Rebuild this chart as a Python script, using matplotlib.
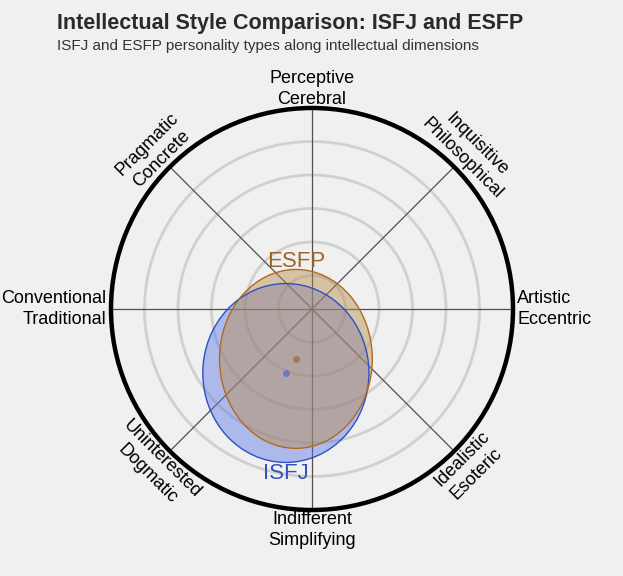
import matplotlib
matplotlib.use('Agg')
import matplotlib.pyplot as plt
from matplotlib.patches import Ellipse, Circle
import numpy as np

plt.rcParams['font.family'] = ['Liberation Sans', 'DejaVu Sans']

# axis labels, starting at top and going clockwise
axis_labels = ['Perceptive\nCerebral', 'Inquisitive\nPhilosophical', 'Artistic\nEccentric',
               'Idealistic\nEsoteric', 'Indifferent\nSimplifying', 'Uninterested\nDogmatic',
               'Conventional\nTraditional', 'Pragmatic\nConcrete']
axis_angles = [90, 45, 0, -45, -90, -135, 180, 135]

ring_levels = [1, 2, 3, 4, 5]
outer_radius = 6

# personality types: centre (x, y) and semi-axes (x, y)
types = ['ISFJ', 'ESFP']
centre_x = [-0.78, -0.48]
centre_y = [-1.91, -1.49]
semi_x = [2.48, 2.28]
semi_y = [2.67, 2.67]
fill_colors = ['#5f76e5', '#b88c49']
edge_colors = ['#2f4fc4', '#b06a1e']
label_colors = ['#3552b8', '#9c6426']
dot_colors = ['#6a78c8', '#a8785a']

px = 33.5  # pixels per unit
cx, cy = 312, 309

fig = plt.figure(figsize=(6.23, 5.76), dpi=100)
fig.patch.set_facecolor('#f0f0f0')
ax = fig.add_axes([0, 0, 1, 1])
ax.set_facecolor('#f0f0f0')
ax.set_xlim(-cx / px, (623 - cx) / px)
ax.set_ylim(-(576 - cy) / px, cy / px)
ax.set_aspect('equal')
ax.axis('off')

for r in ring_levels:
    ax.add_patch(Circle((0, 0), r, fill=False, ec='#d0d0d0', lw=2, zorder=1))

for a in axis_angles:
    t = np.radians(a)
    ax.plot([0, outer_radius * np.cos(t)], [0, outer_radius * np.sin(t)],
            color='#505050', lw=0.9, zorder=2)

ax.add_patch(Circle((0, 0), outer_radius, fill=False, ec='black', lw=3.2, zorder=5))

for i, name in enumerate(types):
    ax.add_patch(Ellipse((centre_x[i], centre_y[i]), 2 * semi_x[i], 2 * semi_y[i],
                         fc=fill_colors[i], ec='none', alpha=0.45, zorder=3 + i * 0.1))
    ax.add_patch(Ellipse((centre_x[i], centre_y[i]), 2 * semi_x[i], 2 * semi_y[i],
                         fc='none', ec=edge_colors[i], lw=1, zorder=3.5))
    ax.plot(centre_x[i], centre_y[i], 'o', ms=4, color=dot_colors[i], zorder=4)

# type labels: ESFP above its ellipse, ISFJ below
ax.text(centre_x[1], centre_y[1] + semi_y[1] - 0.08, types[1], color=label_colors[1],
        fontsize=16, ha='center', va='bottom', zorder=6)
ax.text(centre_x[0], centre_y[0] - semi_y[0] - 0.02, types[0], color=label_colors[0],
        fontsize=16, ha='center', va='top', zorder=6)

# axis labels around the circle
ls = 1.25
for lab, a in zip(axis_labels, axis_angles):
    t = np.radians(a)
    if a == 0:
        ax.text(6.13, 0, lab, ha='left', va='center', fontsize=13, linespacing=ls)
    elif a == 180:
        ax.text(-6.13, 0, lab, ha='right', va='center', fontsize=13, linespacing=ls)
    elif a in (90, -90):
        r = 6.57 if a == 90 else 6.6
        ax.text(0, r * np.sin(t), lab, ha='center', va='center', fontsize=13, linespacing=ls)
    else:
        rot = a - 90 if a > 0 else a + 90
        ax.text(6.65 * np.cos(t), 6.65 * np.sin(t), lab, ha='center', va='center',
                fontsize=13, rotation=rot, rotation_mode='anchor', linespacing=ls)

fig.text(57 / 623, 1 - 23 / 576, 'Intellectual Style Comparison: ISFJ and ESFP',
         fontsize=15.5, fontweight='bold', color='#2a2a2a', ha='left', va='center')
fig.text(57 / 623, 1 - 46 / 576, 'ISFJ and ESFP personality types along intellectual dimensions',
         fontsize=11, color='#333333', ha='left', va='center')

fig.savefig('out.png', dpi=100, facecolor=fig.get_facecolor())
